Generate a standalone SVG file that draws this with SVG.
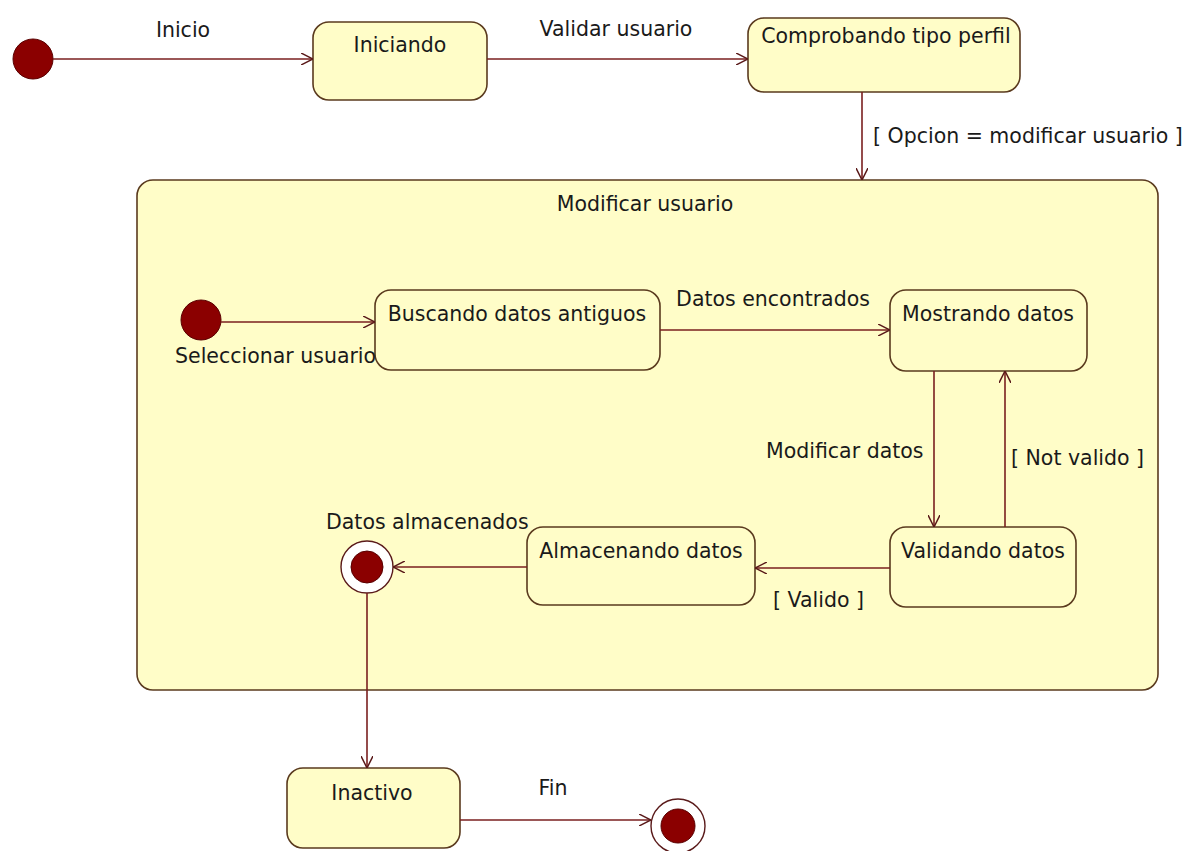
<svg xmlns="http://www.w3.org/2000/svg" width="1199" height="851" viewBox="0 0 1199 851">
<style>
.st{fill:#FFFDC8;stroke:#5a3a1e;stroke-width:1.6}
.t{font-family:"DejaVu Sans",sans-serif;font-size:20.5px;fill:#1a1a1a}
.c{text-anchor:middle}
.ln{stroke:#7a1f1f;stroke-width:1.6;fill:none}
.dot{fill:#8B0000;stroke:#5a0000;stroke-width:1}
.ring{fill:#fff;stroke:#5a1a1a;stroke-width:1.4}
</style>
<defs>
<marker id="a" viewBox="0 0 12 12" refX="12" refY="6" markerWidth="12" markerHeight="12" markerUnits="userSpaceOnUse" orient="auto">
<path d="M0,0 L12,6 L0,12" fill="none" stroke="#5a1a1a" stroke-width="1.5"/>
</marker>
</defs>
<rect width="1199" height="851" fill="#fff"/>
<g id="composite">
<rect class="st" x="137" y="180" width="1021" height="510" rx="16"/>
<text class="t c" x="645" y="211">Modificar usuario</text>
</g>
<g id="start"><circle class="dot" cx="33" cy="59" r="20"/></g>
<g id="iniciando"><rect class="st" x="313" y="22" width="174" height="78" rx="16"/><text class="t c" x="400" y="52">Iniciando</text></g>
<g id="comprobando"><rect class="st" x="748" y="18" width="272" height="74" rx="16"/><text class="t c" x="886" y="43">Comprobando tipo perfil</text></g>
<g id="start2"><circle class="dot" cx="201" cy="320" r="20"/></g>
<g id="buscando"><rect class="st" x="375" y="290" width="285" height="80" rx="16"/><text class="t c" x="517" y="321">Buscando datos antiguos</text></g>
<g id="mostrando"><rect class="st" x="890" y="290" width="197" height="81" rx="16"/><text class="t c" x="988" y="321">Mostrando datos</text></g>
<g id="validando"><rect class="st" x="890" y="527" width="186" height="80" rx="16"/><text class="t c" x="983" y="558">Validando datos</text></g>
<g id="almacenando"><rect class="st" x="527" y="527" width="228" height="78" rx="16"/><text class="t c" x="641" y="558">Almacenando datos</text></g>
<g id="final1"><circle class="ring" cx="367" cy="567" r="26"/><circle class="dot" cx="367" cy="567" r="16"/><text class="t" x="326" y="529">Datos almacenados</text></g>
<g id="inactivo"><rect class="st" x="287" y="768" width="173" height="80" rx="16"/><text class="t c" x="372" y="800">Inactivo</text></g>
<g id="final2"><circle class="ring" cx="678" cy="826" r="27"/><circle class="dot" cx="678" cy="826" r="17"/></g>
<g id="connectors">
<line class="ln" x1="53" y1="59" x2="313" y2="59" marker-end="url(#a)"/>
<text class="t c" x="183" y="37">Inicio</text>
<line class="ln" x1="487" y1="59" x2="748" y2="59" marker-end="url(#a)"/>
<text class="t c" x="616" y="36">Validar usuario</text>
<line class="ln" x1="862" y1="92" x2="862" y2="180" marker-end="url(#a)"/>
<text class="t" x="873" y="143">[ Opcion = modificar usuario ]</text>
<line class="ln" x1="221" y1="322" x2="375" y2="322" marker-end="url(#a)"/>
<text class="t" x="175" y="363">Seleccionar usuario</text>
<line class="ln" x1="660" y1="330" x2="890" y2="330" marker-end="url(#a)"/>
<text class="t c" x="773" y="306">Datos encontrados</text>
<line class="ln" x1="934" y1="371" x2="934" y2="527" marker-end="url(#a)"/>
<text class="t" x="766" y="458">Modificar datos</text>
<line class="ln" x1="1005" y1="527" x2="1005" y2="371" marker-end="url(#a)"/>
<text class="t" x="1011" y="465">[ Not valido ]</text>
<line class="ln" x1="890" y1="568" x2="755" y2="568" marker-end="url(#a)"/>
<text class="t" x="773" y="607">[ Valido ]</text>
<line class="ln" x1="527" y1="567" x2="393" y2="567" marker-end="url(#a)"/>
<line class="ln" x1="367" y1="593" x2="367" y2="768" marker-end="url(#a)"/>
<line class="ln" x1="460" y1="820" x2="651" y2="820" marker-end="url(#a)"/>
<text class="t c" x="553" y="795">Fin</text>
</g>
</svg>
